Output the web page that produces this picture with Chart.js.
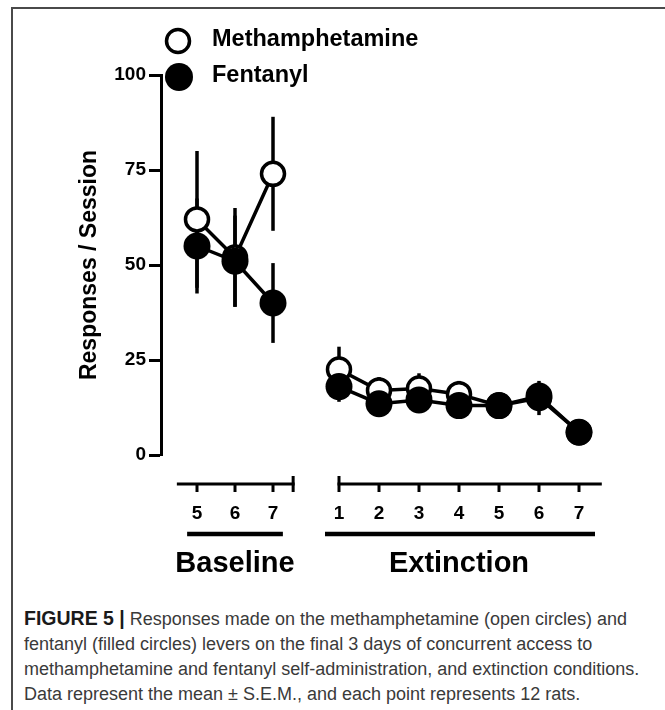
<!DOCTYPE html>
<html>
<head>
<meta charset="utf-8">
<script src="https://cdn.jsdelivr.net/npm/chart.js@4/dist/chart.umd.min.js"></script>
<style>
  body { margin: 0; background: #fff; }
  #wrap { position: relative; width: 665px; height: 710px; overflow: hidden; }
  #frame { position: absolute; left: 11px; top: 7px; width: 700px; height: 720px;
           border-left: 2px solid #4a4a4a; border-top: 2px solid #4a4a4a; }
  #chart { position: absolute; left: 0; top: 0; }
  #caption { position: absolute; left: 24px; top: 606px; width: 640px;
             font-family: "Liberation Sans", Arial, sans-serif; font-size: 18px;
             line-height: 25px; color: #3a3a3a; white-space: nowrap; }
  #caption b { color: #1a1a1a; font-size: 19.5px; }
</style>
</head>
<body>
<div id="wrap">
  <div id="frame"></div>
  <canvas id="chart" width="665" height="600"></canvas>
  <div id="caption"><b>FIGURE 5 |</b> Responses made on the methamphetamine (open circles) and<br>fentanyl (filled circles) levers on the final 3 days of concurrent access to<br>methamphetamine and fentanyl self-administration, and extinction conditions.<br>Data represent the mean &plusmn; S.E.M., and each point represents 12 rats.</div>
</div>
<script>
(() => {
  const FONT = '"Liberation Sans", Arial, sans-serif'

  const baselineDays = [5, 6, 7]
  const extinctionDays = [1, 2, 3, 4, 5, 6, 7]

  const methBaseline = [62, 52, 74]
  const methBaselineSem = [18, 13, 15]
  const fentBaseline = [55, 51, 40]
  const fentBaselineSem = [12.5, 12, 10.5]

  const methExtinction = [22.5, 17, 17.5, 16, 13, 15, 6]
  const methExtinctionSem = [6, 3.5, 4, 3.5, 2.5, 4.5, 1]
  const fentExtinction = [18, 13.5, 14.5, 13, 13, 15.5, 6]
  const fentExtinctionSem = [4, 2, 2, 2, 2, 2, 1]

  const yTicks = [0, 25, 50, 75, 100]

  const toPoints = (days, values) => days.map((d, i) => ({x: d, y: values[i]}))

  const openStyle = {
    borderColor: '#000',
    borderWidth: 3.5,
    pointRadius: 11.5,
    pointBorderWidth: 3.5,
    pointBackgroundColor: '#fff',
    pointBorderColor: '#000',
    order: 2
  }
  const filledStyle = {
    borderColor: '#000',
    borderWidth: 3.5,
    pointRadius: 13.5,
    pointBorderWidth: 0,
    pointBackgroundColor: '#000',
    pointBorderColor: '#000',
    order: 1
  }

  const datasets = [
    {label: 'Methamphetamine', data: toPoints(baselineDays, methBaseline), sem: methBaselineSem, xAxisID: 'xBase', ...openStyle},
    {label: 'Methamphetamine', data: toPoints(extinctionDays, methExtinction), sem: methExtinctionSem, xAxisID: 'xExt', ...openStyle},
    {label: 'Fentanyl', data: toPoints(baselineDays, fentBaseline), sem: fentBaselineSem, xAxisID: 'xBase', ...filledStyle},
    {label: 'Fentanyl', data: toPoints(extinctionDays, fentExtinction), sem: fentExtinctionSem, xAxisID: 'xExt', ...filledStyle}
  ]

  // vertical S.E.M. bars, behind the markers
  const errorBars = {
    id: 'errorBars',
    beforeDatasetsDraw(chart) {
      const ctx = chart.ctx
      const y = chart.scales.y
      ctx.save()
      ctx.strokeStyle = '#000'
      ctx.lineWidth = 3.5
      chart.data.datasets.forEach((ds, di) => {
        const meta = chart.getDatasetMeta(di)
        meta.data.forEach((pt, i) => {
          const v = ds.data[i].y, s = ds.sem[i]
          ctx.beginPath()
          ctx.moveTo(pt.x, y.getPixelForValue(v + s))
          ctx.lineTo(pt.x, y.getPixelForValue(v - s))
          ctx.stroke()
        })
      })
      ctx.restore()
    }
  }

  // the two separate x axes with their group labels
  const brokenAxes = {
    id: 'brokenAxes',
    afterDraw(chart) {
      const ctx = chart.ctx
      const xb = chart.scales.xBase, xe = chart.scales.xExt
      const base = chart.chartArea.bottom
      const axisY = base + 29
      ctx.save()
      ctx.strokeStyle = '#000'
      ctx.fillStyle = '#000'
      ctx.lineWidth = 3

      const line = (x1, y1, x2, y2) => {
        ctx.beginPath(); ctx.moveTo(x1, y1); ctx.lineTo(x2, y2); ctx.stroke()
      }

      // baseline axis, cap on the right
      const bL = xb.getPixelForValue(4.47), bR = xb.getPixelForValue(7.53)
      line(bL, axisY, bR + 1.5, axisY)
      line(bR, axisY - 8, bR, axisY + 8)
      // extinction axis, cap on the left
      const eL = xe.getPixelForValue(1), eR = xe.getPixelForValue(7.57)
      line(eL - 1.5, axisY, eR, axisY)
      line(eL, axisY - 8, eL, axisY + 8)

      ctx.font = 'bold 19px ' + FONT
      ctx.textAlign = 'center'
      ctx.textBaseline = 'middle'
      baselineDays.forEach(d => {
        const x = xb.getPixelForValue(d)
        line(x, axisY, x, axisY + 8)
        ctx.fillText(String(d), x, axisY + 30)
      })
      extinctionDays.forEach(d => {
        const x = xe.getPixelForValue(d)
        if (d !== extinctionDays[0]) line(x, axisY, x, axisY + 8)
        ctx.fillText(String(d), x, axisY + 30)
      })

      // group bars
      ctx.lineWidth = 4.5
      line(xb.getPixelForValue(4.74), base + 79, xb.getPixelForValue(7.26), base + 79)
      line(xe.getPixelForValue(0.65), base + 79, xe.getPixelForValue(7.4), base + 79)

      ctx.font = 'bold 29px ' + FONT
      ctx.fillText('Baseline', xb.getPixelForValue(6), base + 109)
      ctx.fillText('Extinction', xe.getPixelForValue(4), base + 109)
      ctx.restore()
    }
  }

  // legend in the top left corner
  const cornerLegend = {
    id: 'cornerLegend',
    afterDraw(chart) {
      const ctx = chart.ctx
      ctx.save()
      ctx.lineWidth = 3.5
      ctx.strokeStyle = '#000'
      ctx.fillStyle = '#fff'
      ctx.beginPath(); ctx.arc(178, 41, 11.5, 0, Math.PI * 2); ctx.fill(); ctx.stroke()
      ctx.fillStyle = '#000'
      ctx.beginPath(); ctx.arc(179, 77, 14, 0, Math.PI * 2); ctx.fill()
      ctx.font = 'bold 23.5px ' + FONT
      ctx.textAlign = 'left'
      ctx.textBaseline = 'alphabetic'
      ctx.fillText('Methamphetamine', 212, 46)
      ctx.fillText('Fentanyl', 212, 82)
      ctx.restore()
    }
  }

  new Chart(document.getElementById('chart'), {
    type: 'line',
    data: {datasets},
    options: {
      responsive: false,
      animation: false,
      parsing: false,
      layout: {
        autoPadding: false,
        padding: {left: 0, top: 75, right: 55, bottom: 145}
      },
      plugins: {
        legend: {display: false},
        tooltip: {enabled: false}
      },
      datasets: {line: {clip: false, tension: 0}},
      scales: {
        xBase: {type: 'linear', display: false, min: 4.0526, max: 15.868},
        xExt: {type: 'linear', display: false, min: -3.45, max: 7.775},
        y: {
          position: 'left',
          min: 0,
          max: 100,
          afterFit(scale) { scale.width = 161 },
          afterBuildTicks(scale) { scale.ticks = yTicks.map(v => ({value: v})) },
          border: {display: true, color: '#000', width: 3},
          grid: {drawOnChartArea: false, drawTicks: true, tickLength: 12, tickWidth: 3, tickColor: '#000'},
          ticks: {
            color: '#000',
            padding: 3,
            font: {family: FONT, size: 19, weight: 'bold'}
          },
          title: {
            display: true,
            text: 'Responses / Session',
            color: '#000',
            padding: {top: 76, bottom: 0},
            font: {family: FONT, size: 23, weight: 'bold'}
          }
        }
      }
    },
    plugins: [errorBars, brokenAxes, cornerLegend]
  })
})();
</script>
</body>
</html>
